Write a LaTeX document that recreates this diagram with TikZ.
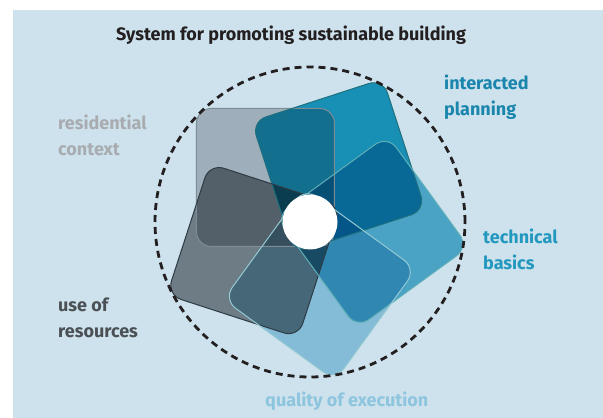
\documentclass[tikz,border=0pt]{standalone}
\usepackage{fontspec}
\setmainfont{Fira Sans}
\definecolor{bgblue}{HTML}{CDE2EC}
\definecolor{resbase}{HTML}{C5C5CA}
\definecolor{planbase}{HTML}{1FA3C4}
\definecolor{techbase}{HTML}{5DB9D4}
\definecolor{qualbase}{HTML}{A5D4E8}
\definecolor{usebase}{HTML}{898D90}
\definecolor{resline}{HTML}{7D8C97}
\definecolor{planline}{HTML}{1F6F7E}
\definecolor{techline}{HTML}{5FAFB8}
\definecolor{qualline}{HTML}{93C9D2}
\definecolor{useline}{HTML}{2F3B44}
\definecolor{restext}{HTML}{A8ACB0}
\definecolor{plantext}{HTML}{1A85AD}
\definecolor{techtext}{HTML}{2398BF}
\definecolor{qualtext}{HTML}{8EC5DE}
\definecolor{usetext}{HTML}{4B5055}
\definecolor{titletext}{HTML}{231F20}
\begin{document}
\begin{tikzpicture}[x=1pt,y=1pt,
    petal/.style={rounded corners=15pt},
    lab/.style={anchor=base west,align=left,inner sep=0pt,
      font=\fontsize{18}{26}\selectfont\bfseries}]
    \useasboundingbox (0,0) rectangle (603,418);
    \fill[bgblue] (13,0) rectangle (603,408);
    \coordinate (c) at (310,196);
    % petals, darker where they overlap
    \begin{scope}[blend mode=multiply]
        \foreach \a/\col in {135/resbase,63/planbase,-9/techbase,-81/qualbase,-153/usebase}
            \fill[\col,petal,shift={(c)},shift={(\a:63)},rotate=\a-135] (-69,-69) rectangle (69,69);
    \end{scope}
    \foreach \a/\col in {135/resline,63/planline,-153/useline,-9/techline,-81/qualline}
        \draw[\col,petal,line width=1pt,shift={(c)},shift={(\a:63)},rotate=\a-135] (-69,-69) rectangle (69,69);
    \fill[white] (c) circle (27.5pt);
    \draw[titletext,line width=2.8pt,dash pattern=on 7pt off 5pt] (c) circle (155pt);
    % labels (base = last line)
    \node[anchor=base,inner sep=0pt,font=\fontsize{18}{22}\selectfont\bfseries,text=titletext] (title) at (291,377) {System for promoting sustainable building};
    \node[lab,text=plantext] (plan) at (444,302) {interacted\\planning};
    \node[lab,text=techtext] (tech) at (483,148) {technical\\basics};
    \node[lab,text=restext] (res) at (58,262) {residential\\context};
    \node[lab,text=usetext] (use) at (58,80) {use of\\resources};
    \node[lab,text=qualtext] (qual) at (265,11) {quality of execution};
\end{tikzpicture}
\end{document}
